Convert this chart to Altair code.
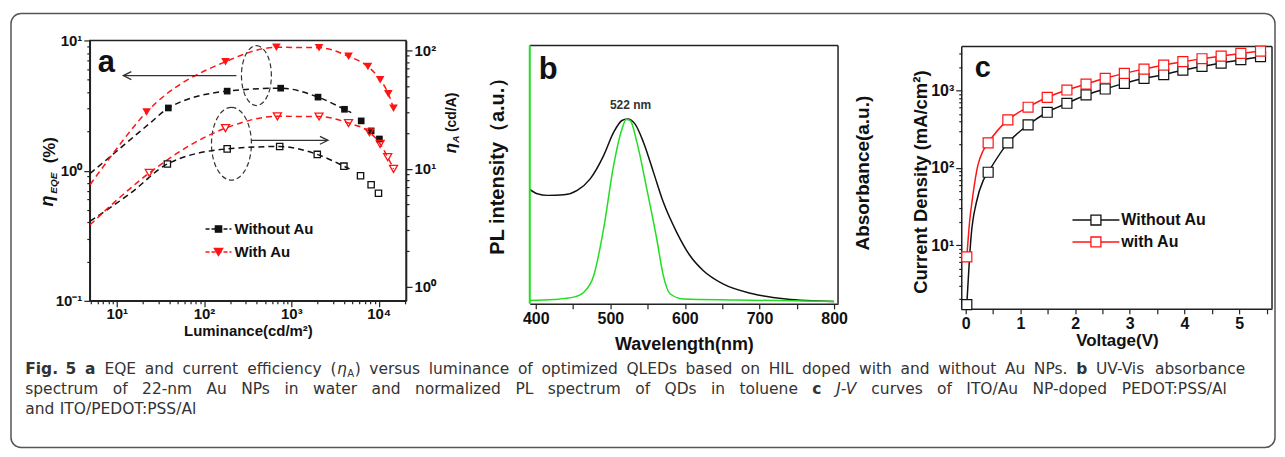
import re
import math
import altair as alt
import pandas as pd

# ---------------- Panel a : EQE / current efficiency vs luminance ----------------
LUM_EQE_WO = [39, 184, 755, 2020, 4060, 6310, 8200, 10200]
EQE_WO = [3.03, 4.08, 4.30, 3.67, 2.96, 2.41, 2.02, 1.75]
LUM_EQE_W = [22, 176, 674, 2075, 4520, 7530, 10400, 12900, 14800]
EQE_W = [2.82, 6.87, 8.85, 8.80, 7.55, 6.30, 5.00, 3.90, 3.02]
LUM_CA_WO = [38, 184, 735, 1980, 4000, 6200, 8200, 9950]
CA_WO = [10.96, 14.7, 15.4, 13.2, 10.5, 8.7, 7.3, 6.2]
LUM_CA_W = [23.6, 176, 692, 2075, 4520, 7850, 10400, 12700, 14800]
CA_W = [9.2, 22.0, 27.7, 27.6, 24.3, 20.3, 16.2, 12.5, 9.96]
# dashed guide curves
FIT_LUM_EQE_WO = [4.95, 8.4, 25, 39, 184, 755, 2020, 4060, 4850]
FIT_EQE_WO = [0.95, 1.28, 2.37, 3.03, 4.08, 4.30, 3.67, 2.96, 2.79]
FIT_LUM_EQE_W = [4.95, 8.0, 22, 176, 674, 2075, 4520, 7530, 10400, 12900, 14800]
FIT_EQE_W = [0.78, 1.21, 2.82, 6.87, 8.85, 8.80, 7.55, 6.30, 5.00, 3.90, 3.02]
FIT_LUM_CA_WO = [4.95, 14.8, 38, 184, 735, 1980, 4000, 4640]
FIT_CA_WO = [3.6, 6.3, 10.96, 14.7, 15.4, 13.2, 10.5, 9.96]
FIT_LUM_CA_W = [4.95, 11.4, 23.6, 176, 692, 2075, 4520, 7850, 10400, 12700, 14800]
FIT_CA_W = [3.35, 5.9, 9.2, 22.0, 27.7, 27.6, 24.3, 20.3, 16.2, 12.5, 9.96]
# annotation ellipses (centre luminance, centre EQE) and arrows (from, to, EQE)
ELL_LUM = [398, 206]
ELL_EQE = [5.37, 1.61]
ARROW_FROM = [235, 349]
ARROW_TO = [11.9, 2625]
ARROW_EQE = [5.37, 1.71]

# ---------------- Panel b : absorbance and PL ----------------
WL_ABS = [392, 402, 415.6, 437.8, 455.6, 473, 491, 504.4, 515.6, 523, 533, 544.4,
          557.8, 571, 589, 606.7, 624.4, 651, 691, 735.6, 800]
ABS = [0.443, 0.426, 0.42, 0.422, 0.439, 0.484, 0.574, 0.664, 0.71, 0.716, 0.697, 0.626,
       0.51, 0.394, 0.277, 0.187, 0.129, 0.077, 0.039, 0.019, 0.009]
WL_PL = [392, 424.4, 451, 464.4, 477.8, 491, 504.4, 515.6, 521.3, 526.7, 535.6, 548.9,
         562.2, 571, 580, 597.8, 669, 800]
PL = [0.013, 0.017, 0.026, 0.045, 0.11, 0.29, 0.536, 0.677, 0.714, 0.71, 0.626, 0.445,
      0.252, 0.11, 0.039, 0.019, 0.015, 0.009]

# ---------------- Panel c : J-V ----------------
VOLT = [0.02, 0.41, 0.77, 1.14, 1.49, 1.85, 2.20, 2.55, 2.90, 3.26, 3.62, 3.97, 4.32, 4.67, 5.03, 5.39]
J_WO = [1.71, 88, 211, 360, 525, 686, 879, 1050, 1242, 1442, 1607, 1845, 2059, 2270, 2512, 2748]
J_W = [7.06, 211, 418, 610, 820, 1018, 1217, 1442, 1672, 1900, 2143, 2366, 2587, 2795, 3025, 3243]
FIT_V_WO = [0.02, 0.10, 0.195, 0.32] + VOLT[1:]
FIT_J_WO = [1.71, 13.5, 36, 69] + J_WO[1:]
FIT_V_W = [0.02, 0.07, 0.13, 0.22, 0.32] + VOLT[1:]
FIT_J_W = [7.06, 20, 44, 107, 168] + J_W[1:]

SERIES_A = ["Without Au", "With Au"]
SERIES_C = ["Without Au", "with Au"]

# ---------------- caption (** bold, * italic, _{ } subscript) ----------------
CAPTION = [
    "**Fig.** **5** **a** EQE and current efficiency (*\u03b7*_{A}) versus luminance of optimized QLEDs "
    "based on HIL doped with and without Au NPs. **b** UV-Vis absorbance",
    "spectrum of 22-nm Au NPs in water and normalized PL spectrum of QDs in toluene **c** *J-V* curves "
    "of ITO/Au NP-doped PEDOT:PSS/Al",
    "and ITO/PEDOT:PSS/Al",
]

F = "Liberation Sans, Arial, sans-serif"
FC = "DejaVu Sans, sans-serif"
RED = "#ff1414"
BLK = "#111111"
GRN = "#22dd22"
DUMMY = pd.DataFrame({"k": [0]})

SUP = {"-": "\u207b", "0": "\u2070", "1": "\u00b9", "2": "\u00b2", "3": "\u00b3", "4": "\u2074"}


def sup(n):
    return "10" + "".join(SUP[c] for c in str(n))


def log_values(lo_exp, hi_exp, lo=None, hi=None):
    vals = []
    for e in range(lo_exp, hi_exp + 1):
        for m in range(1, 10):
            v = round(m * 10 ** e, 6)
            if (lo is None or v >= lo) and (hi is None or v <= hi):
                vals.append(v)
    return vals


def log_axis(lo_exp, hi_exp, lo, hi, orient, size, pad=3, title=None, tfs=15, tpad=4, domain=True):
    vals = log_values(lo_exp, hi_exp, lo, hi)
    decs = [round(10.0 ** e, 6) for e in range(lo_exp, hi_exp + 1) if lo <= 10.0 ** e <= hi]
    expr = "''"
    for d in decs:
        expr = f"datum.value == {d} ? '{sup(int(round(math.log10(d))))}' : ({expr})"
    kw = dict(values=vals, labelExpr=expr, orient=orient, labelFontSize=size, labelPadding=pad,
              labelOverlap=False, labelFlush=False, domain=domain,
              tickSize={"condition": {"test": f"indexof({decs}, datum.value) >= 0", "value": 6}, "value": 3})
    if title is None:
        kw["title"] = None
    else:
        kw.update(title=title, titleFontSize=tfs, titlePadding=tpad)
    return alt.Axis(**kw)


def txt(s, x, y, size, weight="normal", style="normal", font=F, align="left",
        baseline="alphabetic", angle=0, color=BLK):
    return alt.Chart(DUMMY).mark_text(text=s, align=align, baseline=baseline, font=font, fontSize=size,
                                      fontWeight=weight, fontStyle=style, angle=angle, color=color
                                      ).encode(x=alt.value(x), y=alt.value(y))


def hrule(x1, x2, y, color, width=1.5, dash=None):
    kw = dict(color=color, strokeWidth=width)
    if dash:
        kw["strokeDash"] = dash
    return alt.Chart(DUMMY).mark_rule(**kw).encode(x=alt.value(x1), x2=alt.value(x2), y=alt.value(y))


def vrule(x, y1, y2, color, width=1.5):
    return alt.Chart(DUMMY).mark_rule(color=color, strokeWidth=width).encode(
        x=alt.value(x), y=alt.value(y1), y2=alt.value(y2))


def sym(x, y, shape, size, color, filled, fill=None):
    kw = dict(shape=shape, size=size, strokeWidth=1.3, opacity=1)
    if filled:
        kw.update(filled=True, fill=fill or color, stroke=color)
    else:
        kw.update(filled=False, color=color)
    return alt.Chart(DUMMY).mark_point(**kw).encode(x=alt.value(x), y=alt.value(y))


def ellipse_path(a):
    k = 0.5523
    return (f"M0,-1C{k*a:.4f},-1 {a},-{k} {a},0C{a},{k} {k*a:.4f},1 0,1"
            f"C-{k*a:.4f},1 -{a},{k} -{a},0C-{a},-{k} -{k*a:.4f},-1 0,-1Z")


# ---- approximate DejaVu Sans advance widths (em) for caption justification ----
_W = dict(zip("abcdefghijklmnopqrstuvwxyz",
              [.613, .635, .550, .635, .615, .352, .635, .634, .278, .278, .579, .278, .974,
               .634, .612, .635, .635, .411, .521, .392, .634, .592, .818, .592, .592, .525]))
_W.update(dict(zip("ABCDEFGHIJKLMNOPQRSTUVWXYZ",
                   [.684, .686, .698, .770, .632, .575, .775, .752, .295, .295, .656, .557, .863,
                    .748, .787, .603, .787, .695, .635, .611, .732, .684, .989, .685, .611, .685])))
_W.update({d: .636 for d in "0123456789"})
_W.update({".": .318, ",": .318, "-": .361, "(": .390, ")": .390, "/": .337, ":": .337,
           "\u03b7": .634, " ": .318})


def run_width(s, fs, bold):
    return sum(_W.get(c, .6) for c in s) * fs * (1.13 if bold else 1.0)


def parse_token(tok):
    runs = []
    for b, i, sub, plain in re.findall(r"\*\*(.+?)\*\*|\*(.+?)\*|_\{(.+?)\}|([^*_]+)", tok):
        if b:
            runs.append((b, True, False, False))
        elif i:
            runs.append((i, False, True, False))
        elif sub:
            runs.append((sub, False, False, True))
        else:
            runs.append((plain, False, False, False))
    return runs


def caption_layers(line, x0, x1, y, fs, ox):
    words = [parse_token(t) for t in line.split(" ")]
    widths = []
    for w in words:
        widths.append(sum(run_width(s, fs * (0.65 if sb else 1), bd) + 0.5 for s, bd, it, sb in w))
    if x1 is None or len(words) < 2:
        gap = 0.318 * fs
    else:
        gap = (x1 - x0 - sum(widths)) / (len(words) - 1)
    out = []
    x = x0
    for w, ww in zip(words, widths):
        xx = x
        for s, bd, it, sb in w:
            size = fs * (0.65 if sb else 1)
            out.append(txt(s, xx - ox, y + (0.2 * fs if sb else 0), size, "bold" if bd else "normal",
                           "italic" if it else "normal", font=FC, color="#333"))
            xx += run_width(s, size, bd) + 0.5
        x += ww + gap
    return out


# ======================= Panel a =======================
XA = alt.Scale(type="log", domain=[4.914, 20600])
YL = alt.Scale(type="log", domain=[0.1, 10])
YR = alt.Scale(type="log", domain=[0.762, 121.5])
ax_xa = log_axis(0, 4, 4.9, 20600, "bottom", 15, pad=0, title="Luminance(cd/m\u00b2)", tfs=15, tpad=2)
ax_yl = log_axis(-1, 1, 0.1, 10, "left", 15, pad=2)
ax_yr = log_axis(0, 2, 0.762, 121.5, "right", 15, pad=2)


def xa(col):
    return alt.X(f"{col}:Q", scale=XA, axis=ax_xa)


def yl(col):
    return alt.Y(f"{col}:Q", scale=YL, axis=ax_yl)


def yr(col):
    return alt.Y(f"{col}:Q", scale=YR, axis=ax_yr)


def dline(xs, ys, color, yenc):
    df = pd.DataFrame({"x": xs, "y": ys})
    return alt.Chart(df).mark_line(color=color, strokeDash=[6, 4], strokeWidth=1.5,
                                   interpolate="monotone", clip=True).encode(x=xa("x"), y=yenc("y"))


def pts(xs, ys, color, shape, size, filled, yenc):
    df = pd.DataFrame({"x": xs, "y": ys})
    if filled:
        m = alt.Chart(df).mark_point(shape=shape, size=size, filled=True, color=color, opacity=1)
    else:
        m = alt.Chart(df).mark_point(shape=shape, size=size, filled=False, color=color,
                                     strokeWidth=1.3, opacity=1)
    return m.encode(x=xa("x"), y=yenc("y"))


ell_df1 = pd.DataFrame({"x": [ELL_LUM[0]], "y": [ELL_EQE[0]]})
ell_df2 = pd.DataFrame({"x": [ELL_LUM[1]], "y": [ELL_EQE[1]]})
ell1 = alt.Chart(ell_df1).mark_point(shape=ellipse_path(0.5), size=3600, filled=False, color="#333",
                                     strokeWidth=1.2, strokeDash=[5, 3], opacity=1).encode(x=xa("x"), y=yl("y"))
ell2 = alt.Chart(ell_df2).mark_point(shape=ellipse_path(0.548), size=5329, filled=False, color="#333",
                                     strokeWidth=1.2, strokeDash=[5, 3], opacity=1).encode(x=xa("x"), y=yl("y"))
arr_df = pd.DataFrame({"a": ARROW_FROM, "b": ARROW_TO, "y": ARROW_EQE})
arrows = alt.Chart(arr_df).mark_rule(color="#333", strokeWidth=1.3).encode(
    x=xa("a"), x2="b:Q", y=yl("y"))
head_l = alt.Chart(pd.DataFrame({"x": [ARROW_TO[0]], "y": [ARROW_EQE[0]]})).mark_point(
    shape="M2,-1L0,0L2,1", size=64, filled=False, color="#333", strokeWidth=1.3, opacity=1
).encode(x=xa("x"), y=yl("y"))
head_r = alt.Chart(pd.DataFrame({"x": [ARROW_TO[1]], "y": [ARROW_EQE[1]]})).mark_point(
    shape="M-2,-1L0,0L-2,1", size=64, filled=False, color="#333", strokeWidth=1.3, opacity=1
).encode(x=xa("x"), y=yl("y"))

left_a = alt.layer(
    dline(FIT_LUM_EQE_WO, FIT_EQE_WO, BLK, yl),
    dline(FIT_LUM_EQE_W, FIT_EQE_W, RED, yl),
    pts(LUM_EQE_WO, EQE_WO, BLK, "square", 45, True, yl),
    pts(LUM_EQE_W, EQE_W, RED, "triangle-down", 75, True, yl),
    ell1, ell2, arrows, head_l, head_r,
)
right_a = alt.layer(
    dline(FIT_LUM_CA_WO, FIT_CA_WO, BLK, yr),
    dline(FIT_LUM_CA_W, FIT_CA_W, RED, yr),
    pts(LUM_CA_WO, CA_WO, BLK, "square", 40, False, yr),
    pts(LUM_CA_W, CA_W, RED, "triangle-down", 65, False, yr),
)

OX, OY = 88, 38  # page position of panel a plot origin
annots_a = [
    txt("a", 8, 32, 31, "bold"),
    # left y title  eta_EQE (%)
    txt("\u03b7", -42, 161, 18, "bold", "italic", align="center", baseline="middle", angle=270),
    txt("EQE", -36, 143, 10, "bold", "italic", align="center", baseline="middle", angle=270),
    txt("(%)", -40, 110, 17, "bold", align="center", baseline="middle", angle=270),
    # right y title  eta_A (cd/A)
    txt("\u03b7", 362, 108, 17, "bold", "italic", align="center", baseline="middle", angle=270),
    txt("A", 367, 99, 10, "bold", "italic", align="center", baseline="middle", angle=270),
    txt("(cd/A)", 363, 72, 14, "bold", align="center", baseline="middle", angle=270),
    # legend
    hrule(116, 142, 189, BLK, 1.5, [4, 2]),
    sym(129, 189, "square", 40, BLK, True),
    txt(SERIES_A[0], 145, 189, 15, "bold", baseline="middle"),
    hrule(116, 142, 212, RED, 1.5, [4, 2]),
    sym(129, 212, "triangle-down", 70, RED, True),
    txt(SERIES_A[1], 145, 212, 15, "bold", baseline="middle"),
]
# caption (page baselines 372, 392, 412)
CFS = 15.5
annots_a += caption_layers(CAPTION[0], 23.3, 1246.7, 372 - OY, CFS, OX)
annots_a += caption_layers(CAPTION[1], 23.3, 1230, 392 - OY, CFS, OX)
annots_a += caption_layers(CAPTION[2], 23.3, None, 412 - OY, CFS, OX)
# outer rounded frame
annots_a.append(alt.Chart(DUMMY).mark_rect(fillOpacity=0, stroke="#555", strokeWidth=1.5, cornerRadius=10)
                .encode(x=alt.value(-79), x2=alt.value(1188), y=alt.value(-27), y2=alt.value(408)))

panel_a = alt.layer(left_a, right_a, *annots_a).resolve_scale(y="independent").properties(width=317, height=261)

# ======================= Panel b =======================
WB, HB, TOPB = 309, 264, 5
XB = alt.Scale(domain=[392, 805.3], nice=False)
YB = alt.Scale(domain=[0, 1.02], nice=False)
ax_xb = alt.Axis(values=list(range(400, 801, 50)), labelExpr="datum.value % 100 == 0 ? datum.label : ''",
                 format="d", labelFontSize=16, tickSize=5, labelPadding=2, labelOverlap=False,
                 title="Wavelength(nm)", titleFontSize=18, titlePadding=9)
ax_yb = alt.Axis(labels=False, ticks=False, title=None, domain=False)
abs_df = pd.DataFrame({"x": WL_ABS, "y": ABS})
pl_df = pd.DataFrame({"x": WL_PL, "y": PL})
line_abs = alt.Chart(abs_df).mark_line(color=BLK, strokeWidth=1.5, interpolate="monotone", clip=True).encode(
    x=alt.X("x:Q", scale=XB, axis=ax_xb), y=alt.Y("y:Q", scale=YB, axis=ax_yb))
line_pl = alt.Chart(pl_df).mark_line(color=GRN, strokeWidth=1.5, interpolate="monotone", clip=True).encode(
    x=alt.X("x:Q", scale=XB, axis=ax_xb), y=alt.Y("y:Q", scale=YB, axis=ax_yb))
panel_b = alt.layer(
    # frame (top, right, green left edge)
    hrule(0, WB, TOPB, "#222", 1.5),
    vrule(WB, TOPB, HB, "#222", 1.5),
    line_abs, line_pl,
    vrule(0, TOPB, HB, GRN, 2),
    txt("b", 9, 39, 31, "bold"),
    txt("522 nm", 101, 65, 12, "bold", align="center", baseline="middle", color="#333"),
    txt("PL intensity\uff08a.u.\uff09", -32, 121, 20, "bold", align="center", baseline="middle", angle=270),
    txt("Absorbance(a.u.)", 334, 133, 19, "bold", align="center", baseline="middle", angle=270),
).properties(width=WB, height=HB, view=alt.ViewBackground(strokeOpacity=0))

# ======================= Panel c =======================
WC, HC, TOPC = 311, 269, 6
XC = alt.Scale(domain=[-0.073, 5.6], nice=False)
YC = alt.Scale(type="log", domain=[1.507, 4457])
ax_xc = alt.Axis(values=[i * 0.5 for i in range(12)],
                 labelExpr="datum.value % 1 == 0 ? format(datum.value, 'd') : ''",
                 labelFontSize=16, tickSize=5, labelPadding=2, labelOverlap=False,
                 title="Voltage(V)", titleFontSize=17, titlePadding=1)
ax_yc = log_axis(0, 3, 1.507, 3700, "left", 16, pad=2, domain=False)


def cline(xs, ys, color):
    df = pd.DataFrame({"x": xs, "y": ys})
    return alt.Chart(df).mark_line(color=color, strokeWidth=1.5, interpolate="monotone", clip=True).encode(
        x=alt.X("x:Q", scale=XC, axis=ax_xc), y=alt.Y("y:Q", scale=YC, axis=ax_yc))


def cpts(xs, ys, color):
    df = pd.DataFrame({"x": xs, "y": ys})
    return alt.Chart(df).mark_point(shape="square", size=100, filled=True, fill="white", stroke=color,
                                    strokeWidth=1.2, opacity=1).encode(
        x=alt.X("x:Q", scale=XC, axis=ax_xc), y=alt.Y("y:Q", scale=YC, axis=ax_yc))


panel_c = alt.layer(
    hrule(0, WC, TOPC, "#222", 1.5),
    vrule(WC, TOPC, HC, "#222", 1.5),
    vrule(0, TOPC, HC, "#222", 1.5),
    cline(FIT_V_WO, FIT_J_WO, BLK),
    cline(FIT_V_W, FIT_J_W, RED),
    cpts(VOLT, J_WO, BLK),
    cpts(VOLT, J_W, RED),
    txt("c", 13, 37, 29, "bold"),
    txt("Current Density (mA/cm\u00b2)", -41, 142, 18.5, "bold", align="center", baseline="middle", angle=270),
    hrule(111, 158, 180, BLK, 1.5),
    sym(134.5, 180, "square", 100, BLK, True, fill="white"),
    txt(SERIES_C[0], 160, 180, 16, "bold", baseline="middle"),
    hrule(111, 158, 202, RED, 1.5),
    sym(134.5, 202, "square", 100, RED, True, fill="white"),
    txt(SERIES_C[1], 160, 202, 16, "bold", baseline="middle"),
).properties(width=WC, height=HC, view=alt.ViewBackground(strokeOpacity=0))

chart = alt.hconcat(panel_a, panel_b, panel_c, spacing=124, bounds="flush").properties(
    padding={"left": 1, "top": 3, "right": 0, "bottom": 0},
    background="white",
).configure_view(stroke="#222", strokeWidth=1.5).configure_axis(
    labelFont=F, labelFontWeight="bold", labelColor=BLK, titleFont=F, titleFontWeight="bold",
    titleColor=BLK, domainColor="#222", domainWidth=1.5, tickColor="#222", tickWidth=1.2, grid=False
)

chart.save("out.html", embed_options={"renderer": "svg", "actions": False})
